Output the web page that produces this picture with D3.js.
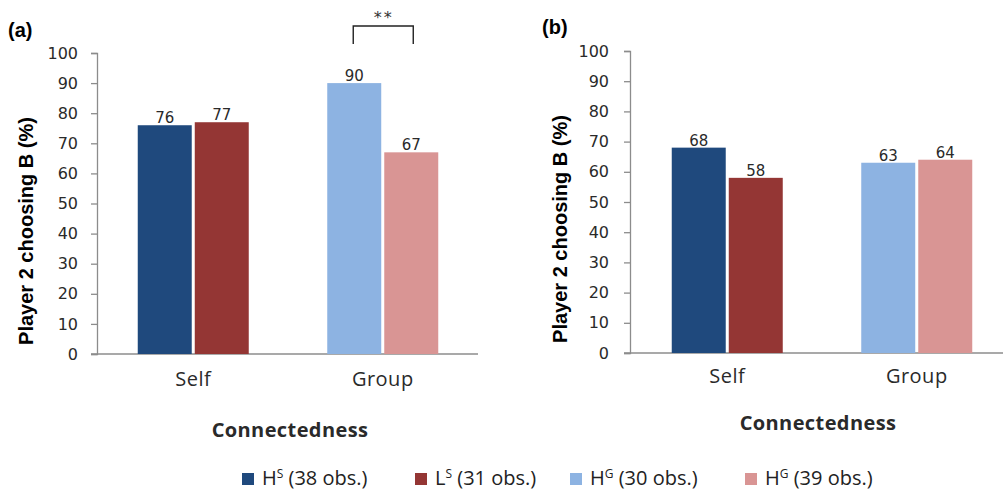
<!DOCTYPE html>
<html><head><meta charset="utf-8">
<script src="https://cdn.jsdelivr.net/npm/d3@7"></script>
<style>body{margin:0;background:#fff}</style>
</head><body>
<script>
const categories = ["Self", "Group"];
const seriesNames = ["H^S (38 obs.)", "L^S (31 obs.)", "H^G (30 obs.)", "H^G (39 obs.)"];
const panelA = [[76, 77], [90, 67]];   // Self: H^S, L^S ; Group: H^G, H^G
const panelB = [[68, 58], [63, 64]];
const yTicks = [0,10,20,30,40,50,60,70,80,90,100];
const colors = [["#1F497D", "#943634"], ["#8DB3E2", "#D99594"]];
const legendColors = ["#1F497D", "#943634", "#8DB3E2", "#D99594"];

const svg = d3.select("body").append("svg").attr("width", 1003).attr("height", 492);

function panel(cfg) {
  const g = svg.append("g");
  const y = d3.scaleLinear().domain([0, 100]).range([cfg.y0, cfg.y100]);
  const x = d3.scaleBand().domain(categories).range([cfg.bx0, cfg.bx0 + 379]);
  const inner = d3.scaleBand().domain([0, 1]).range([0, 111]).paddingInner(0.053);

  // y axis
  const ya = g.append("g").attr("transform", `translate(${cfg.ax0},0)`)
    .call(d3.axisLeft(y).tickValues(yTicks).tickSize(6).tickPadding(cfg.tp));
  ya.select(".domain").attr("stroke", "#8c8c8c").attr("stroke-width", 1.3);
  ya.selectAll(".tick line").attr("stroke", "#8c8c8c").attr("stroke-width", 1.3);
  ya.selectAll(".tick text").attr("font-family", "DejaVu Sans").attr("font-size", 16).attr("fill", "#2a2a2a");

  // x axis line
  g.append("line").attr("x1", cfg.ax0 - 6).attr("x2", cfg.ax1).attr("y1", y(0)).attr("y2", y(0))
    .attr("stroke", "#8c8c8c").attr("stroke-width", 1.3);

  // bars
  cfg.data.forEach((vals, ci) => {
    const cx = x(categories[ci]) + x.bandwidth() / 2 - 55.5;
    vals.forEach((v, si) => {
      const bx = cx + inner(si);
      g.append("rect").attr("x", bx).attr("y", y(v)).attr("width", inner.bandwidth())
        .attr("height", y(0) - y(v)).attr("fill", colors[ci][si]);
      g.append("text").attr("x", bx + inner.bandwidth() / 2).attr("y", y(v) - 2)
        .attr("text-anchor", "middle").attr("font-family", "DejaVu Sans").attr("font-size", 15)
        .attr("fill", "#2a2a2a").text(v);
    });
    g.append("text").attr("x", x(categories[ci]) + x.bandwidth() / 2).attr("y", cfg.catY)
      .attr("text-anchor", "middle").attr("font-family", "Open Sans").attr("font-size", 20)
      .attr("letter-spacing", 0.5).attr("fill", "#2a2a2a").text(categories[ci]);
  });

  // panel label
  g.append("text").attr("x", cfg.lx).attr("y", cfg.ly).attr("font-family", "Liberation Sans")
    .attr("font-weight", "bold").attr("font-size", 20).text(cfg.label);
  // y title
  g.append("text").attr("transform", `translate(${cfg.tx},${cfg.tcy}) rotate(-90)`)
    .attr("text-anchor", "middle").attr("font-family", "Liberation Sans").attr("font-weight", "bold")
    .attr("font-size", 20).text("Player 2 choosing B (%)");
  // x title
  g.append("text").attr("x", cfg.cx).attr("y", cfg.cy).attr("text-anchor", "middle")
    .attr("font-family", "Open Sans").attr("font-weight", "bold").attr("font-size", 20)
    .attr("letter-spacing", 0.4).attr("fill", "#2a2a2a").text("Connectedness");
  return {g, x, y, inner};
}

const A = panel({data: panelA, y0: 354, y100: 53, ax0: 97, ax1: 478, bx0: 98.5, tp: 13,
  lx: 8, ly: 37, label: "(a)", tx: 33, tcy: 231, cx: 290, cy: 437, catY: 386});
panel({data: panelB, y0: 353, y100: 51, ax0: 630, ax1: 1010, bx0: 632.5, tp: 15,
  lx: 542, ly: 34, label: "(b)", tx: 567, tcy: 229, cx: 818, cy: 430, catY: 383});

// significance bracket on panel (a) Group
{
  const gx = A.x("Group") + A.x.bandwidth() / 2 - 55.5;
  const x1 = gx + A.inner(0) + A.inner.bandwidth() / 2;
  const x2 = gx + A.inner(1) + A.inner.bandwidth() / 2;
  A.g.append("path").attr("d", `M${x1 - 1},44V26H${x2 + 2}V44`).attr("fill", "none").attr("stroke", "#222").attr("stroke-width", 1.4);
  A.g.append("text").attr("x", (x1 + x2) / 2 + 1).attr("y", 23).attr("text-anchor", "middle")
    .attr("font-family", "DejaVu Sans").attr("font-size", 16).attr("letter-spacing", 2)
    .attr("fill", "#333").text("**");
}

// legend
const legX = [242, 415, 570, 745];
seriesNames.forEach((s, i) => {
  const lg = svg.append("g").attr("transform", `translate(${legX[i]},0)`);
  lg.append("rect").attr("x", 0).attr("y", 473).attr("width", 12).attr("height", 12).attr("fill", legendColors[i]);
  const parts = s.match(/^(\w)\^(\w) (.*)$/);
  const t = lg.append("text").attr("x", 20).attr("y", 485).attr("font-family", "Open Sans")
    .attr("font-size", 20).attr("fill", "#222");
  t.append("tspan").text(parts[1]);
  t.append("tspan").attr("font-size", 12).attr("dy", -7).text(parts[2]);
  t.append("tspan").attr("dy", 7).text(" " + parts[3]);
});
</script>
</body></html>
